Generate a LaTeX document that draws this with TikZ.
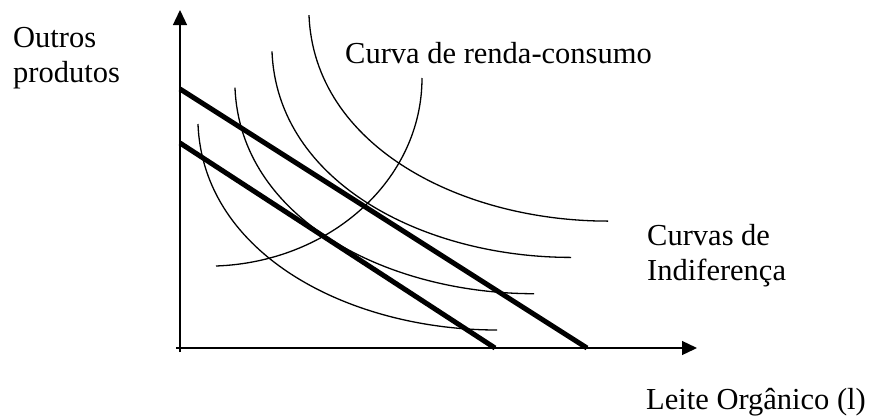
\documentclass[tikz,border=0pt]{standalone}
\usepackage{fontspec}
\setmainfont{Liberation Serif}
\usetikzlibrary{arrows.meta, positioning}

\tikzset{
    axis/.style={line width=1.3pt, -{Triangle[length=15pt, width=14pt]}},
    budget/.style={line width=5pt},
    curve/.style={line width=1.3pt},
    lbl/.style={anchor=base west, inner sep=0pt, align=left,
        font=\fontsize{30.5}{35}\selectfont}
}

\begin{document}
\begin{tikzpicture}[x=1pt, y=-1pt]

    \useasboundingbox (0,0) rectangle (875,418);

    % AXES
    \coordinate (O) at (180,348);
    \coordinate (ybot) at (180,352);
    \coordinate (ytop) at (180,10);
    \coordinate (xbeg) at (176,348);
    \coordinate (xend) at (697,348);
    \draw[axis] (ybot) -- (ytop);
    \draw[axis] (xbeg) -- (xend);

    % BUDGET LINES (thick)
    \coordinate (B0y) at (180,143);
    \coordinate (B0x) at (495,348);
    \coordinate (B1y) at (180,89);
    \coordinate (B1x) at (587,348);
    \draw[budget] (B0y) -- (B0x);
    \draw[budget] (B1y) -- (B1x);

    % INDIFFERENCE CURVES
    \foreach \i in {0,...,3}{
        \draw[curve, shift={(37*\i,-36.3*\i)}]
            (198,124) .. controls (203,255) and (350,330) .. (497,330);
    }

    % INCOME-CONSUMPTION CURVE
    \draw[curve] (216,266) .. controls (330,262) and (422,180) .. (422,78);

    % LABELS (base = last line)
    \node[lbl] (ylabel) at (13,82) {Outros\\produtos};
    \node[lbl] (rcclabel) at (345,63) {Curva de renda-consumo};
    \node[lbl] (iclabel) at (647,280) {Curvas de\\Indiferença};
    \node[lbl] (xlabel) at (646,409) {Leite Orgânico (l)};

\end{tikzpicture}
\end{document}
